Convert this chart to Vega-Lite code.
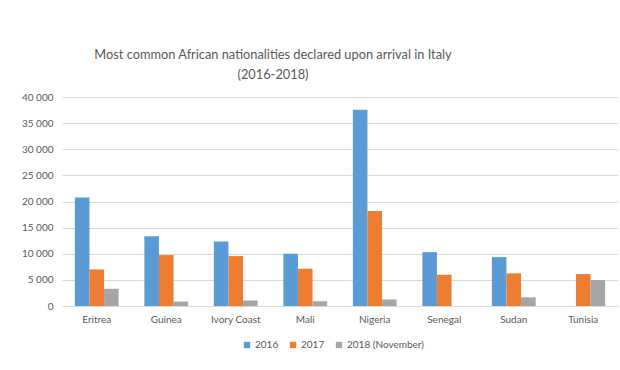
{
  "$schema": "https://vega.github.io/schema/vega-lite/v6.json",
  "width": 556,
  "height": 209,
  "autosize": "none",
  "padding": {"left": 62, "right": 2, "top": 97, "bottom": 64},
  "background": "white",
  "title": {
    "text": ["Most common African nationalities declared upon arrival in Italy", "(2016-2018)"],
    "font": "Lato",
    "fontSize": 12.8,
    "fontWeight": "normal",
    "color": "#595959",
    "anchor": "middle",
    "dx": -67,
    "lineHeight": 20,
    "offset": 10.5
  },
  "data": {
    "values": [
      {"country": "Eritrea", "year": "2016", "value": 20750},
      {"country": "Eritrea", "year": "2017", "value": 7000},
      {"country": "Eritrea", "year": "2018 (November)", "value": 3300},
      {"country": "Guinea", "year": "2016", "value": 13350},
      {"country": "Guinea", "year": "2017", "value": 9740},
      {"country": "Guinea", "year": "2018 (November)", "value": 850},
      {"country": "Ivory Coast", "year": "2016", "value": 12350},
      {"country": "Ivory Coast", "year": "2017", "value": 9550},
      {"country": "Ivory Coast", "year": "2018 (November)", "value": 1050},
      {"country": "Mali", "year": "2016", "value": 10000},
      {"country": "Mali", "year": "2017", "value": 7130},
      {"country": "Mali", "year": "2018 (November)", "value": 900},
      {"country": "Nigeria", "year": "2016", "value": 37550},
      {"country": "Nigeria", "year": "2017", "value": 18200},
      {"country": "Nigeria", "year": "2018 (November)", "value": 1250},
      {"country": "Senegal", "year": "2016", "value": 10300},
      {"country": "Senegal", "year": "2017", "value": 5980},
      {"country": "Senegal", "year": "2018 (November)", "value": 0},
      {"country": "Sudan", "year": "2016", "value": 9350},
      {"country": "Sudan", "year": "2017", "value": 6240},
      {"country": "Sudan", "year": "2018 (November)", "value": 1660},
      {"country": "Tunisia", "year": "2016", "value": 0},
      {"country": "Tunisia", "year": "2017", "value": 6110},
      {"country": "Tunisia", "year": "2018 (November)", "value": 4960}
    ]
  },
  "mark": {"type": "bar"},
  "encoding": {
    "x": {
      "field": "country",
      "type": "nominal",
      "sort": null,
      "title": null,
      "scale": {"paddingInner": 0.37, "paddingOuter": 0.185},
      "axis": {
        "labelAngle": 0,
        "labelFont": "Lato",
        "labelFontSize": 10,
        "labelColor": "#595959",
        "labelPadding": 8,
        "ticks": false,
        "domainColor": "#D9D9D9",
        "grid": false
      }
    },
    "xOffset": {"field": "year", "type": "nominal", "sort": null, "scale": {"paddingInner": 0, "paddingOuter": 0}},
    "y": {
      "field": "value",
      "type": "quantitative",
      "title": null,
      "scale": {"domain": [0, 40000]},
      "axis": {
        "values": [0, 5000, 10000, 15000, 20000, 25000, 30000, 35000, 40000],
        "labelExpr": "replace(format(datum.value, ','), ',', ' ')",
        "labelFont": "Lato",
        "labelFontSize": 10,
        "labelColor": "#595959",
        "labelPadding": 9,
        "ticks": false,
        "domain": false,
        "gridColor": "#D9D9D9",
        "gridWidth": 1
      }
    },
    "color": {
      "field": "year",
      "type": "nominal",
      "sort": null,
      "scale": {"domain": ["2016", "2017", "2018 (November)"], "range": ["#5B9BD5", "#ED7D31", "#A5A5A5"]},
      "legend": {
        "orient": "none",
        "legendX": 180,
        "legendY": 243,
        "direction": "horizontal",
        "title": null,
        "symbolType": "square",
        "symbolSize": 40,
        "symbolStrokeWidth": 0,
        "labelFont": "Lato",
        "labelFontSize": 10,
        "labelColor": "#595959",
        "labelOffset": 3,
        "columnPadding": 9
      }
    }
  },
  "config": {"view": {"stroke": null}}
}
